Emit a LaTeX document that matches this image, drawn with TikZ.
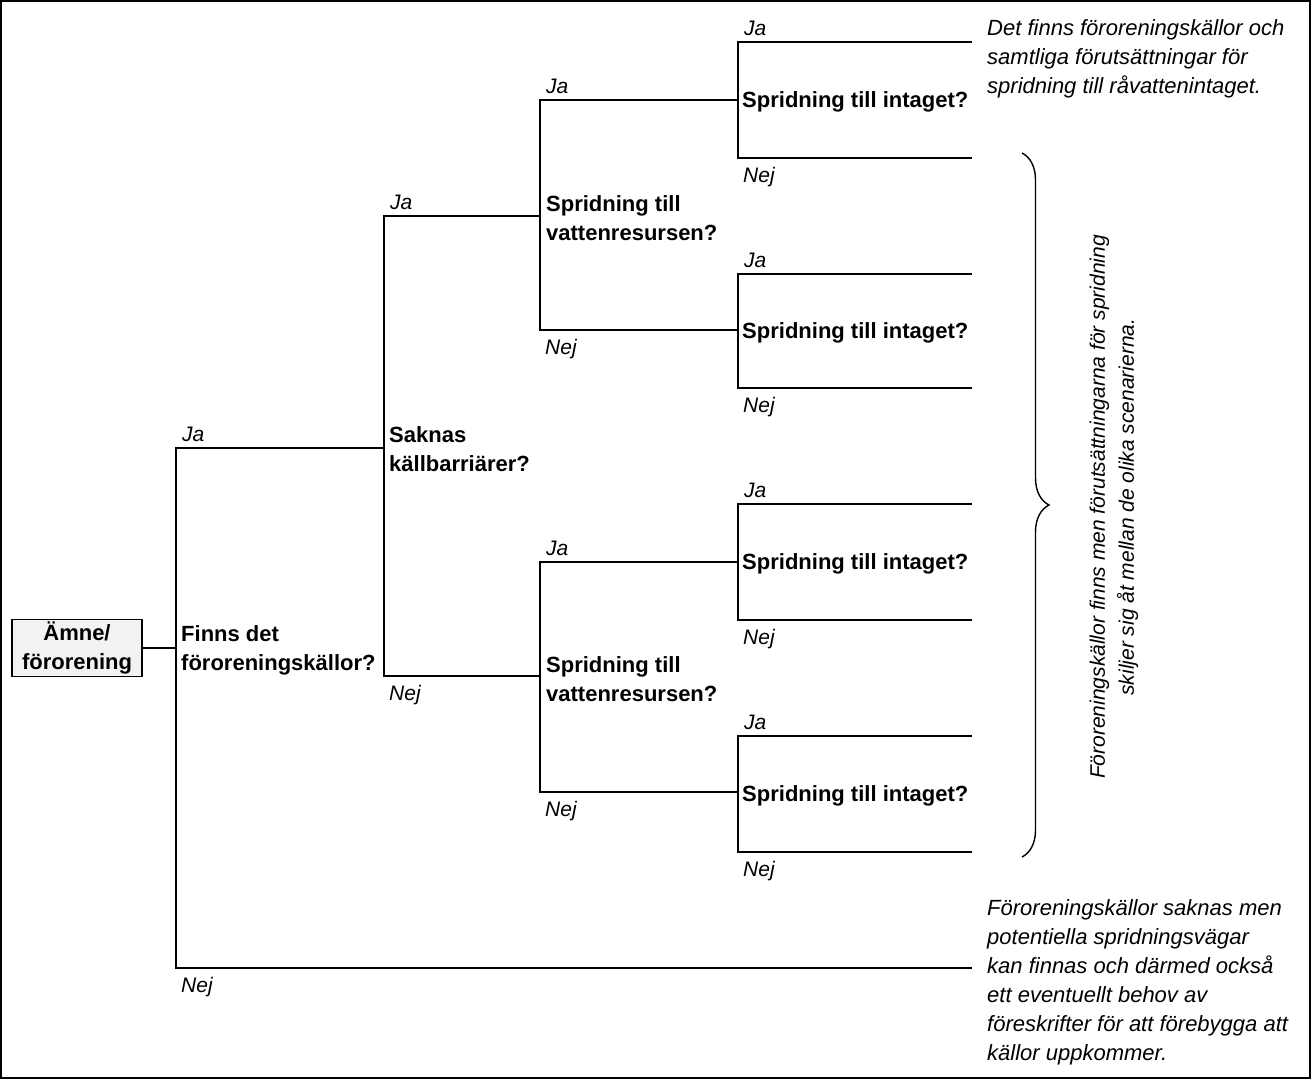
\documentclass[tikz,border=0pt]{standalone}
\usepackage{fontspec}
\setmainfont{Liberation Sans}
\usetikzlibrary{positioning, decorations.pathreplacing, calc}

\begin{document}
\begin{tikzpicture}[x=1pt, y=-1pt,
  line/.style={line width=1.9pt},
  quest/.style={anchor=west, align=left, inner sep=0pt, yshift=-2pt, font=\fontsize{22}{29}\selectfont\bfseries},
  ja/.style={anchor=base west, inner sep=0pt, xshift=6pt, yshift=7pt, font=\fontsize{21}{28}\selectfont\itshape},
  nej/.style={anchor=base west, inner sep=0pt, xshift=5pt, yshift=-24pt, font=\fontsize{21}{28}\selectfont\itshape},
  note/.style={align=left, inner sep=0pt, font=\fontsize{22}{29}\selectfont\itshape},
  rootbox/.style={draw, line width=1.9pt, fill=gray!10, minimum width=130pt, minimum height=57pt, align=center, inner sep=0pt, font=\fontsize{22}{29}\selectfont\bfseries}
]
  \useasboundingbox (0,0) rectangle (1311,1079);
  \draw[line width=1.2pt] (1,1) rectangle (1310,1078);

  % bars of the tree
  \foreach \n/\x/\t/\b in {1/176/448/968, 2/384/216/676, 3/540/100/330, 4/540/562/792,
                           5/738/42/158, 6/738/274/388, 7/738/504/620, 8/738/736/852}{
    \coordinate (t\n) at (\x,\t);
    \coordinate (b\n) at (\x,\b);
  }
  \coordinate (end) at (972,0);

  \foreach \n/\up/\dn in {1/t2/end, 2/t3/t4, 3/t5/t6, 4/t7/t8, 5/end/end, 6/end/end, 7/end/end, 8/end/end}{
    \draw[line] (t\n -| \up) -- (t\n) -- (b\n) -- (b\n -| \dn);
    \node[ja] (ja\n) at (t\n) {Ja};
    \node[nej] (nej\n) at (b\n) {Nej};
  }

  \node[rootbox] (amne) at (77,648) {Ämne/\\förorening};
  \draw[line] (amne.east) -- (amne.east -| t1);

  \node[quest] (finns) at (181,648) {Finns det\\föroreningskällor?};
  \node[quest] (saknas) at (389,447) {Saknas\\källbarriärer?};
  \node[quest] (vattenA) at (546,216) {Spridning till\\vattenresursen?};
  \node[quest] (vattenB) at (546,677) {Spridning till\\vattenresursen?};
  \node[quest] (intagA) at (742,100) {Spridning till intaget?};
  \node[quest] (intagB) at (742,331) {Spridning till intaget?};
  \node[quest] (intagC) at (742,562) {Spridning till intaget?};
  \node[quest] (intagD) at (742,794) {Spridning till intaget?};

  \node[note, anchor=west] (alla) at (987,59) {Det finns föroreningskällor och\\samtliga förutsättningar för\\spridning till råvattenintaget.};
  \node[note, anchor=west] (ingen) at (987,982) {Föroreningskällor saknas men\\potentiella spridningsvägar\\kan finnas och därmed också\\ett eventuellt behov av\\föreskrifter för att förebygga att\\källor uppkommer.};

  \coordinate (brtop) at (1022,153);
  \coordinate (brbot) at (1022,857);
  \draw[line width=1.4pt, decorate, decoration={brace, amplitude=27pt, aspect=0.5}] (brtop) -- (brbot);
  \node[align=center, inner sep=0pt, font=\fontsize{21}{29}\selectfont\itshape, rotate=90, anchor=center] (olika) at (1114,507) {Föroreningskällor finns men förutsättningarna för spridning\\skiljer sig åt mellan de olika scenarierna.};
\end{tikzpicture}
\end{document}
